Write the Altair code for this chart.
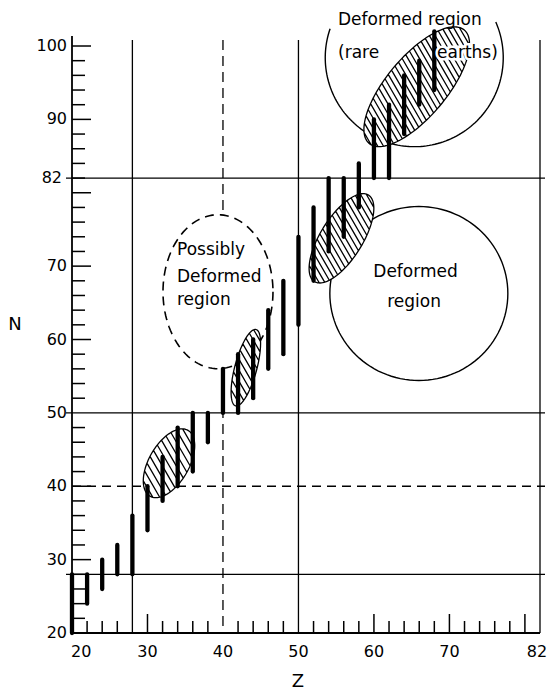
import math
import numpy as np
import pandas as pd
import altair as alt

# ---------------- data ----------------
# stable-isotope N ranges for even Z
bar_z    = [20, 22, 24, 26, 28, 30, 32, 34, 36, 38, 40, 42, 44, 46, 48, 50, 52, 54, 56, 58, 60, 62, 64, 66, 68]
bar_nmin = [20, 24, 26, 28, 28, 34, 38, 40, 42, 46, 50, 50, 52, 56, 58, 62, 68, 72, 74, 78, 82, 82, 88, 92, 94]
bar_nmax = [28, 28, 30, 32, 36, 40, 44, 48, 50, 50, 56, 58, 60, 64, 68, 74, 78, 82, 82, 84, 90, 92, 96, 98, 102]

magic_n_solid = [28, 50, 82]
magic_n_dashed = [40]
magic_z_solid = [28, 50]
magic_z_dashed = [40]

y_labels = [20, 30, 40, 50, 60, 70, 90, 100]
y_label_special = [82]
x_labels = [30, 40, 50, 60, 70]
x_label_first = [20]
x_label_last = [82]

y_minor = [n for n in range(22, 100, 2) if n % 10 != 0]
y_major = [30, 40, 60, 70, 80, 90, 100]
x_minor = [z for z in range(22, 82, 2) if z % 10 != 0 and z != 28]
x_major = [30, 60, 70, 80]

# hatched (deformed-nuclei) regions: centre in (Z, N)
hatch_z = [32.85, 43.03, 55.70, 65.67]
hatch_n = [43.13, 56.16, 73.79, 94.45]
# open circles: "Deformed region", "Possibly deformed", "rare earths"
circ_z = [65.95, 39.34, 65.34]
circ_n = [66.27, 66.51, 98.41]

# annotation texts
ann_text = ["Possibly", "Deformed", "region", "Deformed", "region", "Deformed", "region", "(rare"]
ann_z    = [33.91, 33.91, 33.91, 65.51, 65.31, 55.24, 67.16, 55.24]
ann_n    = [72.20, 68.52, 65.38, 69.20, 65.11, 103.54, 103.54, 99.05]
ann_align = ["left", "left", "left", "center", "center", "left", "left", "left"]
halo_text = ["earths)"]
halo_z = [68.36]
halo_n = [99.05]

# ---------------- geometry / styling ----------------
W, H = 468, 598
XDOM = [20, 82]
YDOM = [20, 101.5]
xs = alt.Scale(domain=XDOM, nice=False, zero=False)
ys = alt.Scale(domain=YDOM, nice=False, zero=False)
FONT = "DejaVu Sans"
K = 100.0  # symbol path unit = 100 px

# ellipse shapes in pixels: semi-major, semi-minor, tilt (deg), hatch spacing
hatch_shape = [(38, 20, 60, 6.0), (39.5, 11, 75, 5.5), (51, 21, 58, 5.0), (74, 30, 50, 5.0)]
HATCH_ANGLE = 60


def outline(a, b, tilt, n=120, t0=0.0, t1=360.0, close=True):
    phi = math.radians(tilt)
    ux, uy = math.cos(phi), -math.sin(phi)
    vx, vy = math.sin(phi), math.cos(phi)
    pts = []
    for i in range(n + (0 if close else 1)):
        t = math.radians(t0 + (t1 - t0) * i / n)
        x = a * math.cos(t) * ux + b * math.sin(t) * vx
        y = a * math.cos(t) * uy + b * math.sin(t) * vy
        pts.append(f"{x / K:.4f} {y / K:.4f}")
    return "M" + " L".join(pts) + (" Z" if close else "")


def hatch(a, b, tilt, spacing):
    phi = math.radians(tilt)
    u = np.array([math.cos(phi), -math.sin(phi)])
    v = np.array([math.sin(phi), math.cos(phi)])
    M = np.outer(u, u) / a ** 2 + np.outer(v, v) / b ** 2
    psi = math.radians(HATCH_ANGLE)
    d = np.array([math.cos(psi), math.sin(psi)])
    nr = np.array([-math.sin(psi), math.cos(psi)])
    A = d @ M @ d
    B = nr @ M @ d
    C = nr @ M @ nr
    out = []
    for c in np.arange(-a + spacing / 2, a, spacing):
        disc = (c * B) ** 2 - A * (c * c * C - 1)
        if disc <= 0:
            continue
        sq = math.sqrt(disc)
        s1 = (-c * B - sq) / A
        s2 = (-c * B + sq) / A
        p1 = c * nr + s1 * d
        p2 = c * nr + s2 * d
        out.append(f"M{p1[0] / K:.4f} {p1[1] / K:.4f} L{p2[0] / K:.4f} {p2[1] / K:.4f}")
    return " ".join(out)


hatch_paths = [outline(a, b, t) + " " + hatch(a, b, t, s) for a, b, t, s in hatch_shape]
circle_paths = [outline(89, 87, 0), outline(55, 77, 0), outline(89, 89, 0, n=120, t0=-23.6, t1=199, close=False)]

# ---------------- layers ----------------
def X(f="Z:Q"):
    return alt.X(f, scale=xs, axis=None)


def Y(f="N:Q"):
    return alt.Y(f, scale=ys, axis=None)


hs = alt.Chart(pd.DataFrame({"N": magic_n_solid})).mark_rule(color="black", strokeWidth=1.3).encode(
    y=Y(), x=alt.value(-6), x2=alt.value(W + 5))
hd = alt.Chart(pd.DataFrame({"N": magic_n_dashed})).mark_rule(color="black", strokeWidth=1.3, strokeDash=[9, 6]).encode(
    y=Y(), x=alt.value(0), x2=alt.value(W + 5))
vs = alt.Chart(pd.DataFrame({"Z": magic_z_solid + [82]})).mark_rule(color="black", strokeWidth=1.3).encode(
    x=X(), y=alt.value(5), y2=alt.value(H))
vd = alt.Chart(pd.DataFrame({"Z": magic_z_dashed})).mark_rule(color="black", strokeWidth=1.3, strokeDash=[10, 6]).encode(
    x=X(), y=alt.value(5), y2=alt.value(H))
lax = alt.Chart(pd.DataFrame({"Z": [20]})).mark_rule(color="black", strokeWidth=1.8).encode(
    x=X(), y=alt.value(1), y2=alt.value(H))
bax = alt.Chart(pd.DataFrame({"N": [20]})).mark_rule(color="black", strokeWidth=1.8).encode(
    y=Y(), x=alt.value(0), x2=alt.value(W))

ymin_t = alt.Chart(pd.DataFrame({"N": y_minor})).mark_rule(color="black", strokeWidth=1.5).encode(
    y=Y(), x=alt.value(0), x2=alt.value(13))
ymaj_t = alt.Chart(pd.DataFrame({"N": y_major})).mark_rule(color="black", strokeWidth=1.5).encode(
    y=Y(), x=alt.value(0), x2=alt.value(19))
xmin_t = alt.Chart(pd.DataFrame({"Z": x_minor})).mark_rule(color="black", strokeWidth=1.5).encode(
    x=X(), y=alt.value(H), y2=alt.value(H - 12))
xmaj_t = alt.Chart(pd.DataFrame({"Z": x_major})).mark_rule(color="black", strokeWidth=1.5).encode(
    x=X(), y=alt.value(H), y2=alt.value(H - 19))

lab_kw = dict(font=FONT, fontSize=16, color="black", baseline="middle")
ylab = alt.Chart(pd.DataFrame({"N": y_labels})).mark_text(align="right", dx=-5, **lab_kw).encode(
    y=Y(), x=alt.value(0), text="N:Q")
ylab82 = alt.Chart(pd.DataFrame({"N": y_label_special})).mark_text(align="right", dx=-10, **lab_kw).encode(
    y=Y(), x=alt.value(0), text="N:Q")
xlab = alt.Chart(pd.DataFrame({"Z": x_labels})).mark_text(align="center", **lab_kw).encode(
    x=X(), y=alt.value(H + 19), text="Z:Q")
xlab20 = alt.Chart(pd.DataFrame({"Z": x_label_first})).mark_text(align="left", dx=-1, **lab_kw).encode(
    x=X(), y=alt.value(H + 19), text="Z:Q")
xlab82 = alt.Chart(pd.DataFrame({"Z": x_label_last})).mark_text(align="center", dx=-3, **lab_kw).encode(
    x=X(), y=alt.value(H + 19), text="Z:Q")
ztitle = alt.Chart(pd.DataFrame({"t": ["Z"]})).mark_text(font=FONT, fontSize=18, color="black", baseline="middle").encode(
    x=alt.value(226), y=alt.value(H + 49), text="t:N")
ntitle = alt.Chart(pd.DataFrame({"t": ["N"]})).mark_text(font=FONT, fontSize=18, color="black", baseline="middle").encode(
    x=alt.value(-57), y=alt.value(290), text="t:N")

cdf = pd.DataFrame({"Z": circ_z, "N": circ_n, "path": circle_paths})
c_solid = alt.Chart(cdf.iloc[[0]]).mark_point(filled=True, fill="white", stroke="black", strokeWidth=1.4,
                                              opacity=1, size=4 * K * K).encode(
    x=X(), y=Y(), shape=alt.Shape("path:N", scale=None, legend=None))
c_dash = alt.Chart(cdf.iloc[[1]]).mark_point(filled=True, fill="white", stroke="black", strokeWidth=1.6,
                                             strokeDash=[9, 6], opacity=1, size=4 * K * K).encode(
    x=X(), y=Y(), shape=alt.Shape("path:N", scale=None, legend=None))
c_arc = alt.Chart(cdf.iloc[[2]]).mark_point(filled=False, stroke="black", strokeWidth=1.4,
                                            opacity=1, size=4 * K * K).encode(
    x=X(), y=Y(), shape=alt.Shape("path:N", scale=None, legend=None))

edf = pd.DataFrame({"Z": hatch_z, "N": hatch_n, "path": hatch_paths})
ell = alt.Chart(edf).mark_point(filled=True, fill="white", stroke="black", strokeWidth=1.3,
                                opacity=1, size=4 * K * K).encode(
    x=X(), y=Y(), shape=alt.Shape("path:N", scale=None, legend=None))

bars = alt.Chart(pd.DataFrame({"Z": bar_z, "N": bar_nmin, "N2": bar_nmax})).mark_rule(
    color="black", strokeWidth=4.3, strokeCap="round").encode(x=X(), y=Y(), y2="N2:Q")

adf = pd.DataFrame({"Z": ann_z, "N": ann_n, "t": ann_text, "al": ann_align})
ann_l = alt.Chart(adf[adf.al == "left"]).mark_text(font=FONT, fontSize=17, color="black", align="left",
                                                   baseline="middle").encode(x=X(), y=Y(), text="t:N")
ann_c = alt.Chart(adf[adf.al == "center"]).mark_text(font=FONT, fontSize=17, color="black", align="center",
                                                     baseline="middle").encode(x=X(), y=Y(), text="t:N")
hdf = pd.DataFrame({"Z": halo_z, "N": halo_n, "t": halo_text})
halo = alt.Chart(hdf).mark_text(font=FONT, fontSize=17, color="white", stroke="white", strokeWidth=5,
                                align="left", baseline="middle").encode(x=X(), y=Y(), text="t:N")
halo_t = alt.Chart(hdf).mark_text(font=FONT, fontSize=17, color="black", align="left",
                                  baseline="middle").encode(x=X(), y=Y(), text="t:N")

chart = alt.layer(
    hs, hd, vs, vd, lax, bax, ymin_t, ymaj_t, xmin_t, xmaj_t,
    ylab, ylab82, xlab, xlab20, xlab82, ztitle, ntitle,
    c_solid, c_dash, c_arc, ell, bars, ann_l, ann_c, halo, halo_t,
).properties(
    width=W, height=H, autosize="none", background="white",
    padding={"left": 72, "top": 35, "right": 14, "bottom": 58},
).configure_view(stroke=None)

chart.save("out.html", embed_options={"renderer": "svg", "actions": False})
